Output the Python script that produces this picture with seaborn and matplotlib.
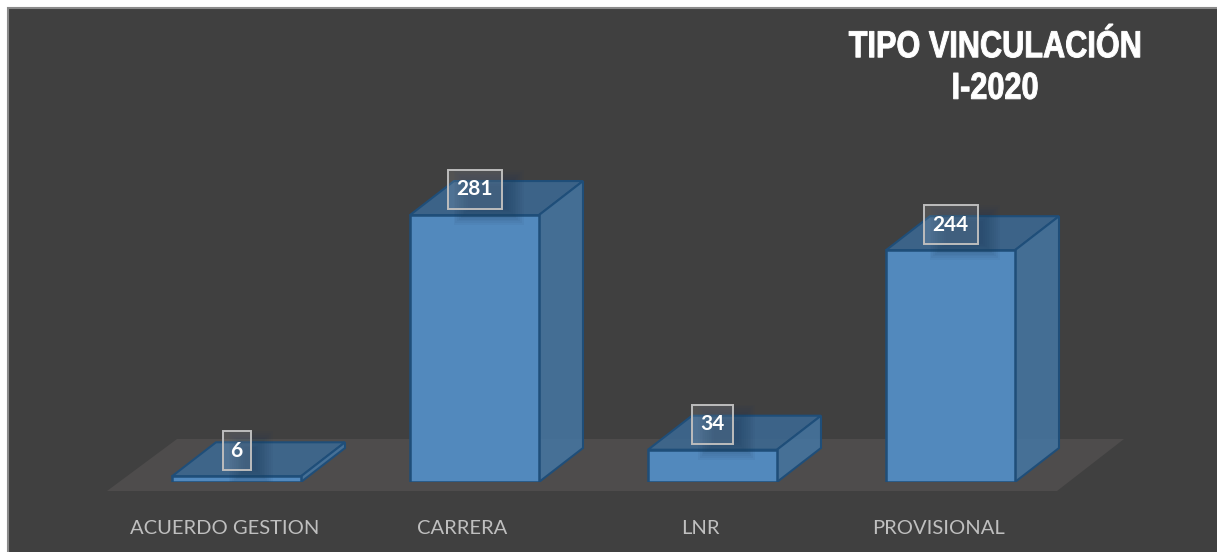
import matplotlib
matplotlib.use("Agg")
import matplotlib.pyplot as plt
import seaborn as sns
import pandas as pd
from matplotlib.colors import to_rgba
from matplotlib.patches import Polygon, Rectangle
from matplotlib.patheffects import AbstractPathEffect
from matplotlib.transforms import Affine2D

categories = ["ACUERDO GESTION", "CARRERA", "LNR", "PROVISIONAL"]
values = [6, 281, 34, 244]
title_text = "TIPO VINCULACIÓN\nI-2020"

W, H = 1217, 552
BG = "#404040"
FRONT = "#5289bd"
SIDE = to_rgba("#4577a4", 0.85)
TOP = to_rgba("#3c6a95", 0.85)
EDGE = "#1f4e79"
FLOOR = "#4e4c4c"


class Narrowed(AbstractPathEffect):
    """Condense glyphs horizontally about a pixel column (no narrow font is installed)."""

    def __init__(self, cx, factor, stroke):
        super().__init__()
        self.cx, self.factor, self.stroke = cx, factor, stroke

    def draw_path(self, renderer, gc, tpath, affine, rgbFace=None):
        squeeze = Affine2D().translate(-self.cx, 0).scale(self.factor, 1).translate(self.cx, 0)
        gc0 = renderer.new_gc()
        gc0.copy_properties(gc)
        gc0.set_foreground("white")
        gc0.set_linewidth(self.stroke)
        renderer.draw_path(gc0, tpath, affine + squeeze, rgbFace)
        gc0.restore()


sns.set_theme(style="white")
plt.rcParams["font.family"] = ["Lato", "DejaVu Sans"]

fig = plt.figure(figsize=(W / 100, H / 100), dpi=100, facecolor="white")
fig.add_artist(Rectangle((8 / W, -0.02), 1.02 - 8 / W, 1.02 - 8 / H, transform=fig.transFigure,
                         facecolor=BG, edgecolor="#8a8a8a", linewidth=1.5, zorder=-5))

# axes: x category spacing 238 px, y baseline at pixel 482, 0.95 px per unit
left, right, top_px, base_px = 117.5, 1069.5, 8, 482
ax = fig.add_axes([left / W, 1 - base_px / H, (right - left) / W, (base_px - top_px) / H])
ax.patch.set_alpha(0)
df = pd.DataFrame({"tipo": categories, "n": values})
sns.barplot(data=df, x="tipo", y="n", color=FRONT, saturation=1, width=0.542,
            edgecolor=EDGE, linewidth=1.8, ax=ax, zorder=3)
ax.set_xlim(-0.5, 3.5)
ax.set_ylim(0, (base_px - top_px) / 0.95)
px_x = (right - left) / 4
px_y = 0.95
dx, dy = 44 / px_x, 34 / px_y

# floor
fl = lambda x, y: ((x - left) / px_x - 0.5, (base_px - y) / px_y)
ax.add_patch(Polygon([fl(107, 491), fl(1057, 491), fl(1124, 439), fl(177, 439)], closed=True,
                     facecolor=FLOOR, edgecolor="none", zorder=1, clip_on=False))

for bar, v in zip(ax.patches[:4], values):
    x0, x1 = bar.get_x(), bar.get_x() + bar.get_width()
    ax.add_patch(Polygon([(x0, v), (x1, v), (x1 + dx, v + dy), (x0 + dx, v + dy)],
                         facecolor=TOP, edgecolor=EDGE, linewidth=1.5, zorder=2.5))
    ax.add_patch(Polygon([(x1, 0), (x1 + dx, dy), (x1 + dx, v + dy), (x1, v)],
                         facecolor=SIDE, edgecolor=EDGE, linewidth=1.5, zorder=2.5))
    xc = (x0 + x1) / 2
    yc = v + 27
    bw = (15 + 13 * len(str(v))) / px_x
    bh = 39 / px_y
    # soft shadow cast by the label box
    for k in range(10):
        grow = 8 - k * 1.8
        sw = bw + 2 * grow / px_x
        sh = bh + 2 * grow / px_y
        ax.add_patch(Rectangle((xc + 14 / px_x - sw / 2, yc - 8 / px_y - sh / 2), sw, sh,
                               facecolor="#1c3a58", alpha=0.055, edgecolor="none", zorder=4))
    ax.add_patch(Rectangle((xc - bw / 2, yc - bh / 2), bw, bh, facecolor=to_rgba("#ffffff", 0.10),
                           edgecolor="#bdbdbd", linewidth=1.4, zorder=5, clip_on=False))
    ax.text(xc, yc, str(v), ha="center", va="center", color="white", fontsize=15,
            fontweight="bold", zorder=7)

ax.set_xticks([i - 12 / px_x for i in range(4)])
ax.set_xticklabels(categories, color="#bfbfbf", fontsize=14.5)
ax.tick_params(axis="x", length=0, pad=27)
ax.set_yticks([])
ax.set_xlabel("")
ax.set_ylabel("")
sns.despine(ax=ax, left=True, bottom=True)

fig.text(995 / W, 1 - 68 / H, title_text, ha="center", va="center", color="white", fontsize=27,
         fontweight="bold", family=["Liberation Sans"], linespacing=1.2,
         path_effects=[Narrowed(995, 0.818, 0.7)])
fig.savefig("out.png", dpi=100, facecolor="white")
